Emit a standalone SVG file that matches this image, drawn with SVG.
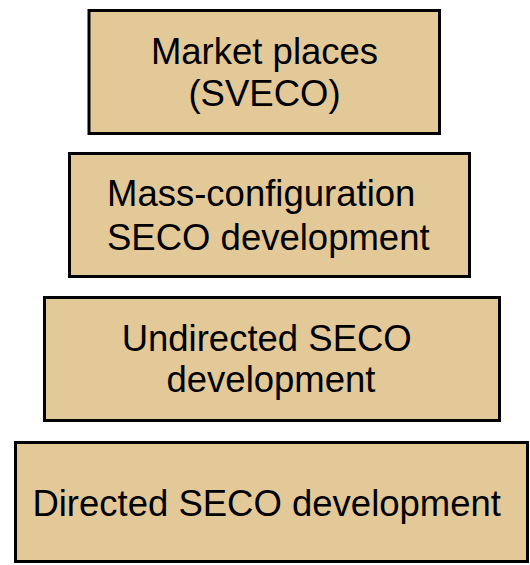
<svg xmlns="http://www.w3.org/2000/svg" width="530" height="565" viewBox="0 0 530 565">
<style>
.box{fill:#E3C998;stroke:#000;stroke-width:3;}
.t{font-family:"Liberation Sans",Arial,sans-serif;font-size:36.5px;fill:#000;}
.c{text-anchor:middle;}
</style>
<rect width="530" height="565" fill="#fff"/>
<g id="market-places">
<rect class="box" x="89" y="10.5" width="350.5" height="123"/>
<text class="t c" x="264.5" y="64">Market places</text>
<text class="t c" x="264.5" y="106">(SVECO)</text>
</g>
<g id="mass-configuration">
<rect class="box" x="69.5" y="153.5" width="400" height="123"/>
<text class="t" x="107" y="206">Mass-configuration</text>
<text class="t" x="107" y="250">SECO development</text>
</g>
<g id="undirected">
<rect class="box" x="44.5" y="297.5" width="455" height="123"/>
<text class="t c" x="266.7" y="351">Undirected SECO</text>
<text class="t c" x="271" y="392">development</text>
</g>
<g id="directed">
<rect class="box" x="15.5" y="442.5" width="512" height="119"/>
<text class="t c" x="266.7" y="516">Directed SECO development</text>
</g>
<g id="connectors"></g>
</svg>
